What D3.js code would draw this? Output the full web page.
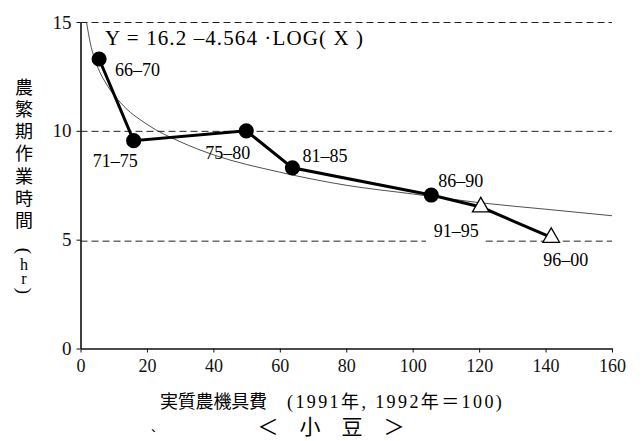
<!DOCTYPE html>
<html>
<head>
<meta charset="utf-8">
<script src="https://cdn.jsdelivr.net/npm/d3@7"></script>
<style>
  body { margin: 0; background: #fff; }
  .vert { writing-mode: vertical-rl; text-orientation: upright; }
</style>
</head>
<body>
<script>
// data
const periods = ['66-70', '71-75', '75-80', '81-85', '86-90', '91-95', '96-00'];
const cost = [5.6, 16.0, 49.9, 63.8, 105.6, 120.5, 141.7];
const hours = [13.3, 9.55, 10.0, 8.3, 7.05, 6.5, 5.1];
const markers = ['circle', 'circle', 'circle', 'circle', 'circle', 'triangle', 'triangle'];

// fitted curve, points
const fitX = [1.8, 3, 5, 8, 12, 20, 30, 40, 60, 80, 100, 120, 140, 160];
const fitY = [15.0, 14.0, 13.0, 12.1, 11.3, 10.3, 9.5, 8.9, 8.1, 7.5, 7.1, 6.7, 6.4, 6.1];

const xTicks = [0, 20, 40, 60, 80, 100, 120, 140, 160];
const yTicks = [0, 5, 10, 15];
const gridLevels = [5, 10, 15];

// label offsets in pixels (layout only)
const labelOffset = [[16, 17], [-41, 26], [-41, 28], [10, -6], [7, -8], [-47, 30], [-8, 29]];

const SERIF = '"Liberation Serif", "DejaVu Serif", serif';
const JP = '"Noto Sans CJK JP", sans-serif';

const w = 644, h = 441;
const xScale = d3.scaleLinear().domain([0, 160]).range([80.5, 612]);
const yScale = d3.scaleLinear().domain([0, 15]).range([348.5, 22]);

const svg = d3.select('body').append('svg')
  .attr('width', w).attr('height', h);

// dashed reference lines
gridLevels.forEach(function(v) {
  const segs = v === 5 ? [[0, 104], [122, 160]] : [[0, 160]]; // gap for the 91-95 label
  segs.forEach(function(seg) {
    svg.append('line')
      .attr('x1', xScale(seg[0])).attr('x2', xScale(seg[1]))
      .attr('y1', yScale(v) + (v === 5 ? 1.5 : 0.5)).attr('y2', yScale(v) + (v === 5 ? 1.5 : 0.5))
      .attr('stroke', '#222').attr('stroke-width', 1)
      .attr('stroke-dasharray', '7,4');
  });
});

// axes
const xAxis = d3.axisBottom(xScale).tickValues(xTicks).tickSize(4).tickSizeOuter(0).tickPadding(7);
const yAxis = d3.axisLeft(yScale).tickValues(yTicks).tickSize(4).tickSizeOuter(0).tickPadding(5);

const gx = svg.append('g')
  .attr('transform', 'translate(0,' + yScale(0) + ')')
  .call(xAxis);
gx.attr('font-family', SERIF);
gx.selectAll('text').attr('font-family', SERIF).style('font-size', '18px').attr('fill', '#111');

const gy = svg.append('g')
  .attr('transform', 'translate(' + xScale(0) + ',0)')
  .call(yAxis);
gy.attr('font-family', SERIF);
gy.selectAll('text').attr('font-family', SERIF).style('font-size', '19px').attr('fill', '#111');

svg.selectAll('.domain').attr('stroke', '#111').attr('stroke-width', 1.6);
svg.selectAll('.tick line').attr('stroke', '#111');

// fitted curve
const fitData = fitX.map((x, i) => ({x: x, y: fitY[i]}));
svg.append('path')
  .datum(fitData)
  .attr('fill', 'none')
  .attr('stroke', '#222')
  .attr('stroke-width', 0.8)
  .attr('d', d3.line().x(d => xScale(d.x)).y(d => yScale(d.y)).curve(d3.curveMonotoneX));

// data line
const data = periods.map((p, i) => ({period: p, x: cost[i], y: hours[i], m: markers[i], off: labelOffset[i]}));
svg.append('path')
  .datum(data)
  .attr('fill', 'none')
  .attr('stroke', '#000')
  .attr('stroke-width', 3)
  .attr('d', d3.line().x(d => xScale(d.x)).y(d => yScale(d.y)));

// markers
svg.selectAll('.pt')
  .data(data)
  .enter()
  .append('path')
  .attr('class', 'pt')
  .attr('transform', d => 'translate(' + xScale(d.x) + ',' + yScale(d.y) + ')')
  .attr('d', d => d.m === 'circle'
    ? d3.symbol(d3.symbolCircle, 180)()
    : d3.symbol(d3.symbolTriangle, 120)())
  .attr('fill', d => d.m === 'circle' ? '#000' : '#fff')
  .attr('stroke', '#000')
  .attr('stroke-width', d => d.m === 'circle' ? 0 : 1.3);

// point labels
svg.selectAll('.lbl')
  .data(data)
  .enter()
  .append('text')
  .attr('class', 'lbl')
  .attr('x', d => xScale(d.x) + d.off[0])
  .attr('y', d => yScale(d.y) + d.off[1])
  .attr('font-family', SERIF)
  .style('font-size', '18px')
  .text(d => d.period.replace('-', '\u2013'));

// equation
svg.append('text')
  .attr('x', 105).attr('y', 45)
  .attr('font-family', SERIF)
  .style('font-size', '21px')
  .attr('textLength', 258)
  .attr('lengthAdjust', 'spacing')
  .text('Y  = 16.2 \u20134.564 \u00b7LOG( X )');

// y axis title, vertical
svg.append('text')
  .attr('class', 'vert')
  .attr('x', 24).attr('y', 78)
  .attr('font-family', JP)
  .style('font-size', '18px')
  .style('letter-spacing', '4.2px')
  .text('農繁期作業時間');

// (hr) stacked, parentheses turned
svg.append('text').attr('font-family', SERIF).style('font-size', '19px')
  .attr('text-anchor', 'middle').attr('dominant-baseline', 'central')
  .attr('transform', 'translate(24,251) rotate(90)').text('(');
svg.append('text')
  .attr('class', 'vert')
  .attr('x', 24).attr('y', 256)
  .attr('font-family', SERIF)
  .style('font-size', '16px')
  .style('letter-spacing', '-3px')
  .text('hr');
svg.append('text').attr('font-family', SERIF).style('font-size', '19px')
  .attr('text-anchor', 'middle').attr('dominant-baseline', 'central')
  .attr('transform', 'translate(24,291) rotate(90)').text(')');

// x axis title, two pieces
svg.append('text')
  .attr('x', 160).attr('y', 408)
  .attr('font-family', JP)
  .style('font-size', '18px')
  .attr('textLength', 107)
  .text('実質農機具費');

svg.append('text')
  .attr('x', 287).attr('y', 408)
  .attr('font-family', '"Liberation Serif", "Noto Sans CJK JP", serif')
  .style('font-size', '18px')
  .style('letter-spacing', '2.4px')
  .text('(1991年, 1992年＝100)');

// caption
svg.append('text')
  .attr('x', 331).attr('y', 434)
  .attr('text-anchor', 'middle')
  .attr('font-family', JP)
  .style('font-size', '21px')
  .text('＜\u3000小\u3000豆\u3000＞');

svg.append('text')
  .attr('x', 151).attr('y', 432)
  .attr('font-family', JP)
  .style('font-size', '12px')
  .text('、');
</script>
</body>
</html>
